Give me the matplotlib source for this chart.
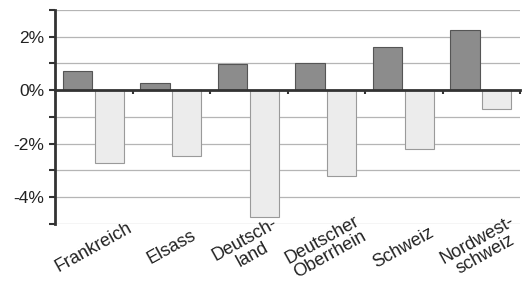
import matplotlib
matplotlib.use("Agg")
import matplotlib.pyplot as plt
import numpy as np
from matplotlib.ticker import FixedLocator, FuncFormatter

categories = ["Frankreich", "Elsass", "Deutsch-\nland", "Deutscher\nOberrhein", "Schweiz", "Nordwest-\nschweiz"]
series_dark = [0.7, 0.25, 0.97, 1.0, 1.6, 2.25]
series_light = [-2.72, -2.47, -4.75, -3.2, -2.2, -0.7]
ytick_values = [2, 0, -2, -4]

plt.rcParams['font.family'] = ['Liberation Sans', 'DejaVu Sans']

fig = plt.figure(figsize=(5.29, 2.81), dpi=100)
ax = fig.add_axes([0.104, 0.203, 0.879, 0.762])

x = np.arange(len(categories))
w = 0.375
ax.bar(x - 0.21, series_dark, width=w, color="#8c8c8c", edgecolor="#555555", linewidth=0.8, zorder=3)
ax.bar(x + 0.2, series_light, width=w, color="#ececec", edgecolor="#9a9a9a", linewidth=0.8, zorder=3)

ax.set_xlim(-0.5, len(categories) - 0.5)
ax.set_ylim(-5, 3)

# grid
ax.yaxis.set_major_locator(FixedLocator(ytick_values))
ax.yaxis.set_minor_locator(FixedLocator(np.arange(-5, 4, 1)))
ax.yaxis.set_major_formatter(FuncFormatter(lambda v, p: f"{int(v)}%"))
ax.grid(axis="y", which="both", color="#b5b5b5", linewidth=0.9, zorder=0)
ax.tick_params(axis="y", which="both", direction="out", length=4.5, width=1.5, color="#333333",
               labelsize=12.5, labelcolor="#222222", pad=3)

# spines
for s in ["top", "right"]:
    ax.spines[s].set_visible(False)
ax.spines["left"].set_linewidth(2)
ax.spines["left"].set_color("#333333")
ax.spines["bottom"].set_position(("data", 0))
ax.spines["bottom"].set_linewidth(2)
ax.spines["bottom"].set_color("#333333")
ax.spines["bottom"].set_zorder(4)

ax.set_xticks(list(np.arange(len(categories)) + 0.5), labels=[""] * len(categories))
ax.tick_params(axis="x", which="both", direction="out", length=3, width=1.5, color="#333333")

sec = ax.secondary_xaxis("bottom")
sec.set_xticks(x, labels=categories)
sec.tick_params(axis="x", length=0, labelsize=13, labelcolor="#222222", pad=17)
for lbl in sec.get_xticklabels():
    lbl.set_rotation(29)
    lbl.set_rotation_mode("anchor")
    lbl.set_ha("center")
    lbl.set_va("center")
    lbl.set_linespacing(1.0)
sec.spines["bottom"].set_visible(False)

fig.savefig("out.png", dpi=100, facecolor="white")
